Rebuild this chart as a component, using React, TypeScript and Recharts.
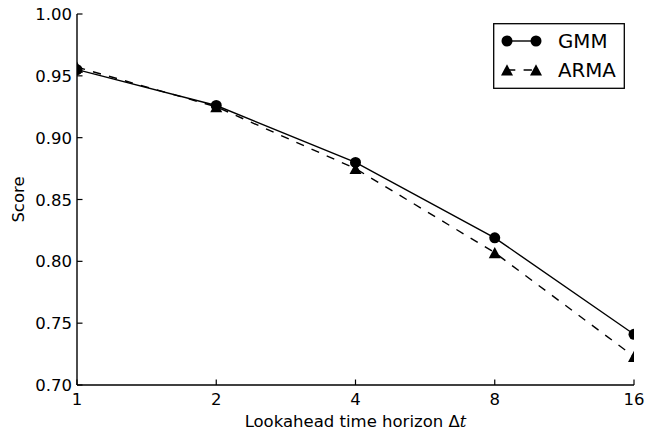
import React from 'react';
import { LineChart, Line, XAxis, YAxis, Legend } from 'recharts';

const horizons = [1, 2, 4, 8, 16];
const gmmScores = [0.955, 0.926, 0.880, 0.819, 0.741];
const armaScores = [0.957, 0.925, 0.875, 0.807, 0.723];
const xTicks = [1, 2, 4, 8, 16];
const yTicks = [0.7, 0.75, 0.8, 0.85, 0.9, 0.95, 1.0];
const seriesNames = ['GMM', 'ARMA'];
const xLabel = 'Lookahead time horizon ';
const yLabel = 'Score';

const data = horizons.map((h, i) => ({ h, gmm: gmmScores[i], arma: armaScores[i] }));

const FONT = '"DejaVu Sans", sans-serif';
const TICK = 5.5;
const TICK_FS = 16.5;
const CLIP_ID = 'plot-x-clip';

const BottomTick = (props: any) => {
  const { x, y, payload } = props;
  return (
    <g>
      <line x1={x} y1={y} x2={x} y2={y - TICK} stroke="#000" strokeWidth={1.2} />
      <text x={x} y={y + 20} textAnchor="middle" fontSize={TICK_FS} fontFamily={FONT} fill="#000">
        {payload.value}
      </text>
    </g>
  );
};

const TopTick = (props: any) => {
  const { x, y } = props;
  return <line x1={x} y1={y} x2={x} y2={y + TICK} stroke="#000" strokeWidth={1.2} />;
};

const LeftTick = (props: any) => {
  const { x, y, payload } = props;
  return (
    <g>
      <line x1={x} y1={y} x2={x + TICK} y2={y} stroke="#000" strokeWidth={1.2} />
      <text x={x - 5} y={y + 6} textAnchor="end" fontSize={TICK_FS} fontFamily={FONT} fill="#000">
        {Number(payload.value).toFixed(2)}
      </text>
    </g>
  );
};

const RightTick = (props: any) => {
  const { x, y } = props;
  return <line x1={x} y1={y} x2={x - TICK} y2={y} stroke="#000" strokeWidth={1.2} />;
};

const XLabel = (props: any) => {
  const vb = props.viewBox || { x: 77, y: 385, width: 557, height: 51 };
  return (
    <g>
      <defs>
        <clipPath id={CLIP_ID}>
          <rect x={vb.x} y={-2000} width={vb.width} height={5000} />
        </clipPath>
      </defs>
      <text x={vb.x + vb.width / 2} y={vb.y + 42} textAnchor="middle" fontSize={TICK_FS} fontFamily={FONT} fill="#000">
        <tspan>{xLabel}Δ</tspan>
        <tspan fontStyle="italic" fontFamily='"DejaVu Serif", serif'>t</tspan>
      </text>
    </g>
  );
};

const YLabel = (props: any) => {
  const vb = props.viewBox || { x: 0, y: 14, width: 77, height: 371 };
  const cx = vb.x + 24;
  const cy = vb.y + vb.height / 2;
  return (
    <text x={cx} y={cy} transform={`rotate(-90 ${cx} ${cy})`} textAnchor="middle" fontSize={TICK_FS} fontFamily={FONT} fill="#000">
      {yLabel}
    </text>
  );
};

const CircleDot = (p: any) => (
  <circle key={p.key} cx={p.cx} cy={p.cy} r={5.5} fill="#000" stroke="none" clipPath={`url(#${CLIP_ID})`} />
);
const TriDot = (p: any) => (
  <path
    key={p.key}
    d={`M${p.cx},${p.cy - 5.7} L${p.cx + 6},${p.cy + 5.5} L${p.cx - 6},${p.cy + 5.5} Z`}
    fill="#000"
    stroke="none"
    clipPath={`url(#${CLIP_ID})`}
  />
);

const LegendBox = () => (
  <svg width={132} height={66} style={{ display: 'block' }}>
    <rect x={0.7} y={0.7} width={130.6} height={64.6} fill="#fff" stroke="#000" strokeWidth={1.3} />
    <line x1={14} y1={18} x2={43} y2={18} stroke="#000" strokeWidth={1.4} />
    <circle cx={14} cy={18} r={5.5} fill="#000" />
    <circle cx={43} cy={18} r={5.5} fill="#000" />
    <text x={65} y={24.5} fontSize={19.8} fontFamily={FONT} fill="#000">{seriesNames[0]}</text>
    <line x1={14} y1={47} x2={43} y2={47} stroke="#000" strokeWidth={1.4} strokeDasharray="8.3 8.3" />
    <path d="M14,41.3 L20,52.5 L8,52.5 Z" fill="#000" />
    <path d="M43,41.3 L49,52.5 L37,52.5 Z" fill="#000" />
    <text x={65} y={54} fontSize={19.8} fontFamily={FONT} fill="#000">{seriesNames[1]}</text>
  </svg>
);

export default function App() {
  return (
    <div style={{ position: 'absolute', left: 0, top: 0, width: 648, height: 436, background: '#fff' }}>
      <LineChart width={648} height={436} data={data} margin={{ top: 14, right: 14, bottom: 0, left: 0 }}>
        <XAxis
          dataKey="h"
          type="number"
          scale="log"
          domain={[1, 16]}
          ticks={xTicks}
          allowDataOverflow
          height={51}
          tickSize={0}
          tickMargin={0}
          tickLine={false}
          axisLine={{ stroke: '#000', strokeWidth: 1.4 }}
          tick={<BottomTick />}
          interval={0}
          label={<XLabel />}
        />
        <XAxis
          xAxisId="top"
          orientation="top"
          type="number"
          scale="log"
          domain={[1, 16]}
          ticks={xTicks}
          allowDataOverflow
          height={0}
          tickSize={0}
          tickMargin={0}
          tickLine={false}
          axisLine={{ stroke: '#000', strokeWidth: 1.4 }}
          tick={<TopTick />}
          interval={0}
        />
        <YAxis
          type="number"
          domain={[0.7, 1.0]}
          ticks={yTicks}
          allowDataOverflow
          width={77}
          tickSize={0}
          tickMargin={0}
          tickLine={false}
          axisLine={{ stroke: '#000', strokeWidth: 1.4 }}
          tick={<LeftTick />}
          interval={0}
          label={<YLabel />}
        />
        <YAxis
          yAxisId="right"
          orientation="right"
          type="number"
          domain={[0.7, 1.0]}
          ticks={yTicks}
          allowDataOverflow
          width={0}
          tickSize={0}
          tickMargin={0}
          tickLine={false}
          axisLine={{ stroke: '#000', strokeWidth: 1.4 }}
          tick={<RightTick />}
          interval={0}
        />
        <Line
          dataKey="gmm"
          name={seriesNames[0]}
          stroke="#000"
          strokeWidth={1.4}
          dot={CircleDot}
          activeDot={false}
          isAnimationActive={false}
        />
        <Line
          dataKey="arma"
          name={seriesNames[1]}
          stroke="#000"
          strokeWidth={1.4}
          strokeDasharray="8.3 8.3"
          dot={TriDot}
          activeDot={false}
          isAnimationActive={false}
        />
        <Legend
          layout="vertical"
          align="center"
          verticalAlign="middle"
          content={<LegendBox />}
          wrapperStyle={{ position: 'absolute', left: 493, top: 23, width: 132, height: 66 }}
        />
      </LineChart>
    </div>
  );
}
